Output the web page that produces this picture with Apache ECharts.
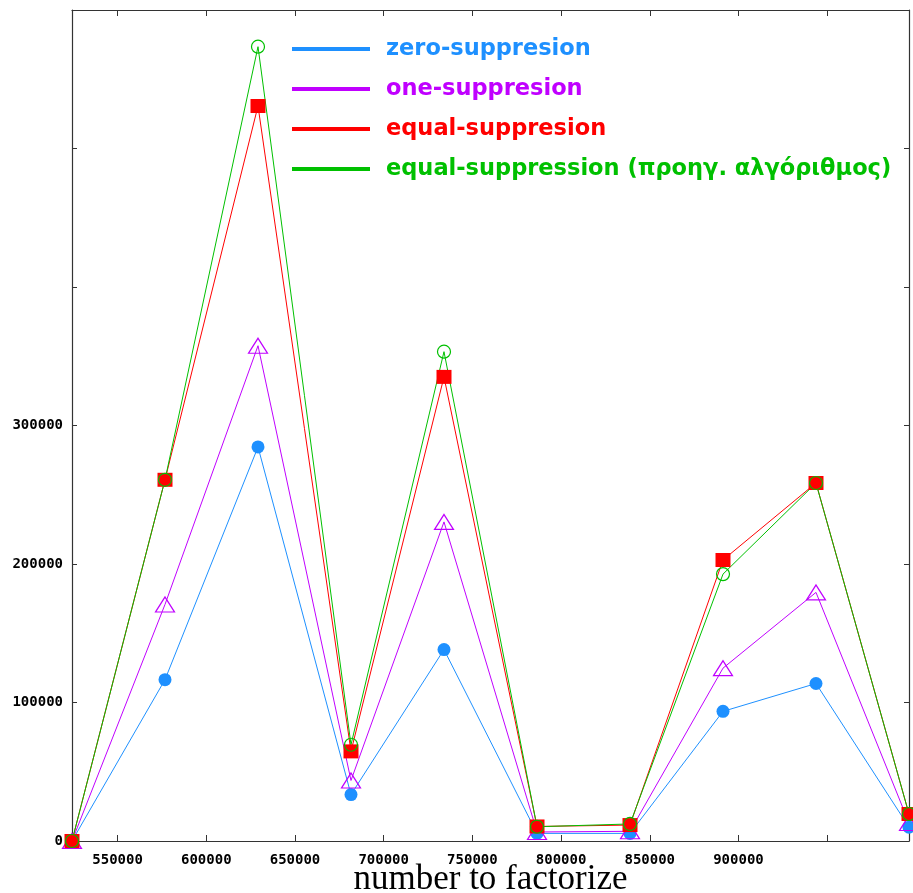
<!DOCTYPE html>
<html>
<head>
<meta charset="utf-8">
<script src="https://cdn.jsdelivr.net/npm/echarts@6/dist/echarts.min.js"></script>
<style>
  html, body { margin: 0; padding: 0; background: #fff; }
  #chart { width: 913px; height: 893px; }
</style>
</head>
<body>
<div id="chart"></div>
<script>
// Numbers that were factorized (x) and the measured cost of each method (y)
const numbers = [524288, 576717, 629146, 681574, 734003, 786432, 838861, 891290, 943718, 996147];
const zeroSuppression = [0, 116500, 284500, 33500, 138200, 5500, 5500, 93600, 113700, 10000];
const oneSuppression = [0, 170800, 357600, 43700, 230400, 6500, 7000, 124800, 179500, 13000];
const equalSuppression = [0, 260800, 530700, 64700, 335100, 10500, 11500, 202900, 258500, 19500];
const equalSuppressionPrev = [0, 260800, 573500, 69500, 353300, 10300, 12300, 192700, 258500, 19500];

const seriesNames = [
  'zero-suppresion',
  'one-suppresion',
  'equal-suppresion',
  'equal-suppression (προηγ. αλγόριθμος)'
];
const seriesColors = ['#1e90ff', '#c000ff', '#ff0000', '#00c000'];

const yLabelMax = 300000;
const xLabelMax = 900000;

const pair = (ys) => numbers.map((x, i) => [x, ys[i]]);

const chart = echarts.init(document.getElementById('chart'), null, { renderer: 'canvas' });

const axisLine = { show: true, onZero: false, lineStyle: { color: '#333', width: 1.2 } };
const tickFont = { fontFamily: 'DejaVu Sans Mono', fontWeight: 'bold', fontSize: 14, color: '#000' };

chart.setOption({
  backgroundColor: '#fff',
  animation: false,
  grid: { left: 72, right: 4, top: 10, bottom: 52, containLabel: false, outerBoundsMode: 'none' },
  legend: {
    orient: 'vertical',
    left: 292,
    top: 37,
    padding: 0,
    itemWidth: 78,
    itemHeight: 4,
    itemGap: 16,
    icon: 'rect',
    textStyle: { fontFamily: 'DejaVu Sans', fontWeight: 'bold', fontSize: 22.5, lineHeight: 24, padding: [0, 0, 0, 11] },
    data: seriesNames.map((n, i) => ({
      name: n,
      icon: 'rect',
      itemStyle: { color: seriesColors[i], borderWidth: 0 },
      textStyle: { color: seriesColors[i] }
    }))
  },
  xAxis: [
    {
      type: 'value',
      position: 'bottom',
      min: numbers[0],
      max: numbers[numbers.length - 1],
      splitNumber: 10,
      name: 'number to factorize',
      nameLocation: 'middle',
      nameGap: 21,
      nameMoveOverlap: false,
      nameTextStyle: { fontFamily: 'Liberation Serif', fontSize: 35, color: '#000' },
      axisLine: axisLine,
      axisTick: { show: true, inside: true, length: 6, lineStyle: { color: '#333' } },
      splitLine: { show: false },
      axisLabel: Object.assign({
        margin: 12,
        showMinLabel: false,
        showMaxLabel: false,
        formatter: (v) => (v % 50000 === 0 && v <= xLabelMax) ? String(v) : ''
      }, tickFont)
    },
    {
      type: 'value',
      position: 'top',
      min: numbers[0],
      max: numbers[numbers.length - 1],
      splitNumber: 10,
      axisLine: axisLine,
      axisTick: { show: true, inside: true, length: 6, lineStyle: { color: '#333' } },
      splitLine: { show: false },
      axisLabel: { show: false }
    }
  ],
  yAxis: [
    {
      type: 'value',
      position: 'left',
      min: 0,
      max: 600000,
      interval: 100000,
      axisLine: axisLine,
      axisTick: { show: true, inside: true, length: 5, lineStyle: { color: '#333' } },
      splitLine: { show: false },
      axisLabel: Object.assign({
        margin: 9,
        formatter: (v) => v <= yLabelMax ? String(v) : ''
      }, tickFont)
    },
    {
      type: 'value',
      position: 'right',
      min: 0,
      max: 600000,
      interval: 100000,
      axisLine: axisLine,
      axisTick: { show: true, inside: true, length: 5, lineStyle: { color: '#333' } },
      splitLine: { show: false },
      axisLabel: { show: false }
    }
  ],
  series: [
    {
      name: seriesNames[0],
      type: 'line',
      data: pair(zeroSuppression),
      symbol: 'circle',
      symbolSize: 13,
      itemStyle: { color: seriesColors[0] },
      lineStyle: { color: seriesColors[0], width: 1 }
    },
    {
      name: seriesNames[1],
      type: 'line',
      data: pair(oneSuppression),
      symbol: 'triangle',
      symbolSize: [19, 15],
      itemStyle: { color: 'rgba(0,0,0,0)', borderColor: seriesColors[1], borderWidth: 1.2 },
      lineStyle: { color: seriesColors[1], width: 1 }
    },
    {
      name: seriesNames[2],
      type: 'line',
      data: pair(equalSuppression),
      symbol: 'rect',
      symbolSize: [15, 14],
      itemStyle: { color: seriesColors[2] },
      lineStyle: { color: seriesColors[2], width: 1 }
    },
    {
      name: seriesNames[3],
      type: 'line',
      data: pair(equalSuppressionPrev),
      symbol: 'circle',
      symbolSize: 13,
      itemStyle: { color: 'rgba(0,0,0,0)', borderColor: seriesColors[3], borderWidth: 1.2 },
      lineStyle: { color: seriesColors[3], width: 1 }
    }
  ]
});
</script>
</body>
</html>
